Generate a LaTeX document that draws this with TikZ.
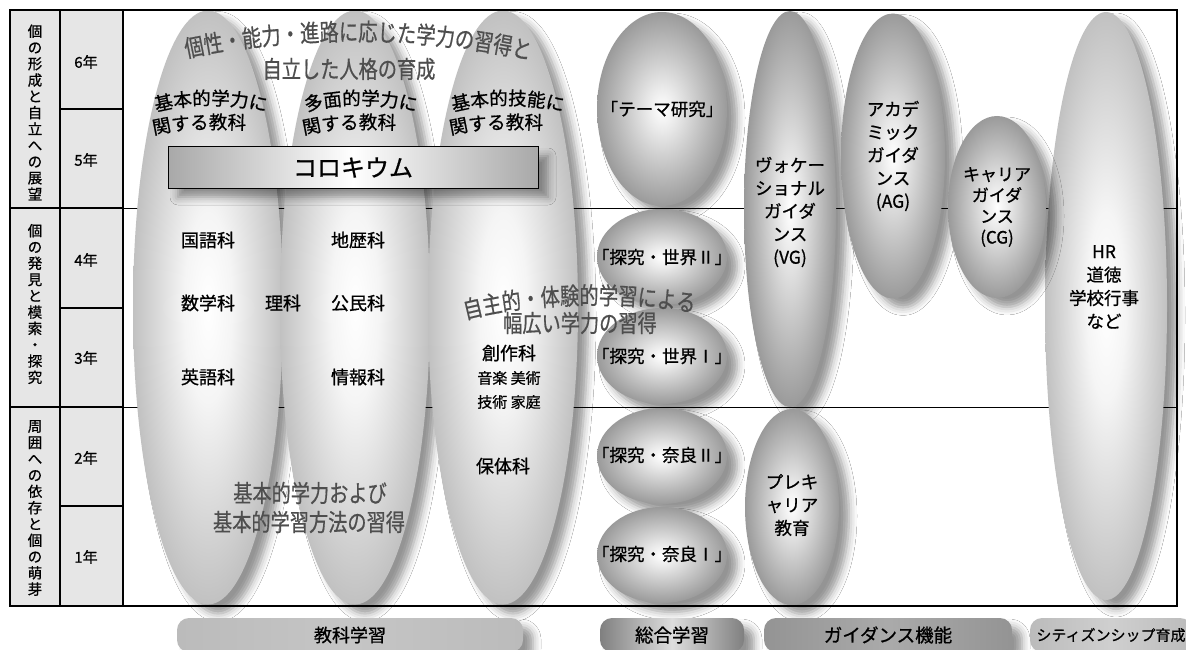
\documentclass[tikz,border=0pt]{standalone}
\usepackage{fontspec}
\setmainfont{Noto Sans CJK JP}[FakeBold=0.8]
\newfontfamily\capfam[FakeStretch=0.8,FakeBold=0.6]{Noto Sans CJK JP}
\usetikzlibrary{shapes.geometric,shadows.blur,decorations.text}
\definecolor{cellfill}{HTML}{E6E6E6}
\definecolor{lg}{HTML}{BBBBBB}
\definecolor{dg}{HTML}{8E8E8E}
\definecolor{capgray}{HTML}{4E4E4E}
\pgfdeclareradialshading{lightball}{\pgfpoint{0bp}{0bp}}{color(0bp)=(white); color(8bp)=(white!85!lg); color(27bp)=(lg); color(50bp)=(lg)}
\pgfdeclareradialshading{darkball}{\pgfpoint{0bp}{0bp}}{color(0bp)=(white); color(6bp)=(white!80!dg); color(28bp)=(dg); color(50bp)=(dg!88!black)}
\newcommand\mycapfont{\capfam\fontsize{24}{26}\selectfont}
\newcommand\mysubjfont{\fontsize{18.5}{20}\selectfont}
\tikzset{
  every node/.style={inner sep=0pt, outer sep=0pt},
  softshadow/.style={blur shadow={shadow xshift=10pt, shadow yshift=-9pt, shadow blur radius=8pt, shadow opacity=42}},
  tallell/.style={ellipse, shading=lightball, softshadow},
  ballell/.style={ellipse, shading=darkball, softshadow},
  balltxt/.style={align=center, font=\fontsize{17.5}{23}\selectfont},
  subjtxt/.style={font=\fontsize{18}{18}\selectfont},
  smalltxt/.style={font=\fontsize{15}{15}\selectfont},
  yrtxt/.style={font=\fontsize{15}{15}\selectfont},
  verttxt/.style={align=center, font=\fontsize{14.5}{16.3}\selectfont},
  captxt/.style={text=capgray, font=\mycapfont},
  pillbox/.style={rounded corners=12pt, minimum height=34pt, softshadow},
  rowline/.style={line width=0.9pt, black},
  tline/.style={line width=1.1pt, black},
  arctext/.style={decorate, decoration={text along path, text align=center, text={#1}}},
}
\begin{document}
\begin{tikzpicture}[x=1pt,y=-1pt]
\useasboundingbox (0,0) rectangle (1186,650);
\clip (0,0) rectangle (1186,650);
\fill[white] (0,0) rectangle (1186,650);
\fill[cellfill] (10,10) rectangle (123,606);
% row lines across the main area
\draw[rowline] (123,208) -- (1177,208);
\draw[rowline] (123,407) -- (1177,407);
% tall light ellipses
\node[tallell, minimum width=150pt, minimum height=594pt] (L1) at (208,307.5) {};
\node[tallell, minimum width=150pt, minimum height=594pt] (L2) at (355,307.5) {};
\node[tallell, minimum width=150pt, minimum height=594pt] (L3) at (503,307.5) {};
\node[tallell, minimum width=122pt, minimum height=588pt] (HR) at (1106,306) {};
% dark balls
\node[ballell, minimum width=130pt, minimum height=194pt] (T) at (662,109) {};
\node[ballell, minimum width=130pt, minimum height=96pt] (W2) at (662,257) {};
\node[ballell, minimum width=130pt, minimum height=96pt] (W1) at (662,356) {};
\node[ballell, minimum width=130pt, minimum height=96pt] (N2) at (662,456) {};
\node[ballell, minimum width=130pt, minimum height=96pt] (N1) at (662,555) {};
\node[ballell, minimum width=92pt, minimum height=396pt] (VG) at (790,209) {};
\node[ballell, minimum width=94pt, minimum height=196pt] (PC) at (792,507) {};
\node[ballell, minimum width=104pt, minimum height=285pt] (AG) at (893,156) {};
\node[ballell, minimum width=98pt, minimum height=182pt] (CG) at (997,207) {};
\node[balltxt] (Tt) at (T) {「テーマ研究」};
\node[balltxt] (W2t) at (W2) {「探究・世界Ⅱ」};
\node[balltxt] (W1t) at (W1) {「探究・世界Ⅰ」};
\node[balltxt] (N2t) at ([yshift=1pt]N2.center) {「探究・奈良Ⅱ」};
\node[balltxt] (N1t) at ([yshift=1pt]N1.center) {「探究・奈良Ⅰ」};
\node[balltxt] (VGt) at ([yshift=-3pt]VG.center) {ヴォケー\\ショナル\\ガイダ\\ンス\\(VG)};
\node[balltxt] (PCt) at ([yshift=2pt]PC.center) {プレキ\\ャリア\\教育};
\node[balltxt] (AGt) at (AG) {アカデ\\ミック\\ガイダ\\ンス\\(AG)};
\node[balltxt, font=\fontsize{17}{21}\selectfont] (CGt) at (CG) {キャリア\\ガイダ\\ンス\\(CG)};
\node[balltxt, font=\fontsize{17.5}{23.3}\selectfont] (HRt) at (1104,287) {HR\\道徳\\学校行事\\など};
% colloquium
\node[draw=black, line width=1pt, left color=lg!90!black, right color=lg!90!black, middle color=white, softshadow,
      minimum width=370pt, minimum height=41pt, font=\fontsize{24}{24}\selectfont] (Coll) at (353,167.5) {コロキウム};
% captions
\path[arctext={|\mycapfont|個性・能力・進路に応じた学力の習得と}, decoration={text color=capgray}]
  (176,60) .. controls (290,34) and (420,34) .. (540,62);
\node[captxt] (cap1b) at (349,69) {自立した人格の育成};
\path[arctext={|\mycapfont|自主的・体験的学習による}, decoration={text color=capgray}]
  (456,322) .. controls (530,300) and (630,300) .. (704,314);
\node[captxt] (cap2b) at (580,323) {幅広い学力の習得};
\node[captxt] (cap3a) at (310,493) {基本的学力および};
\node[captxt] (cap3b) at (309,522) {基本的学習方法の習得};
% subject group headings
\path[arctext={|\mysubjfont|基本的学力に}] (148,114) .. controls (185,102) and (235,102) .. (274,114);
\path[arctext={|\mysubjfont|関する教科}] (148,137) .. controls (170,128) and (220,128) .. (252,130);
\path[arctext={|\mysubjfont|多面的学力に}] (298,114) .. controls (335,102) and (385,102) .. (424,114);
\path[arctext={|\mysubjfont|関する教科}] (298,137) .. controls (320,128) and (370,128) .. (402,130);
\path[arctext={|\mysubjfont|基本的技能に}] (445,114) .. controls (482,102) and (532,102) .. (571,114);
\path[arctext={|\mysubjfont|関する教科}] (445,137) .. controls (467,128) and (517,128) .. (549,130);
% subjects
\node[subjtxt] (s1) at (208,240) {国語科};
\node[subjtxt] (s2) at (358,240) {地歴科};
\node[subjtxt] (s3) at (208,303) {数学科};
\node[subjtxt] (s4) at (283,303) {理科};
\node[subjtxt] (s5) at (358,303) {公民科};
\node[subjtxt] (s6) at (208,377) {英語科};
\node[subjtxt] (s7) at (358,377) {情報科};
\node[subjtxt] (s8) at (509,353) {創作科};
\node[smalltxt] (s9) at (509,378) {音楽 美術};
\node[smalltxt] (s10) at (509,402) {技術 家庭};
\node[subjtxt] (s11) at (503,466) {保体科};
% table
\draw[tline] (10,10) rectangle (1177,606);
\draw[tline] (60,10) -- (60,606);
\draw[tline] (123,10) -- (123,606);
\draw[tline] (10,208) -- (123,208);
\draw[tline] (10,407) -- (123,407);
\draw[tline] (60,109) -- (123,109);
\draw[tline] (60,308) -- (123,308);
\draw[tline] (60,506) -- (123,506);
\node[verttxt] (v1) at (35,112.5) {個\\の\\形\\成\\と\\自\\立\\へ\\の\\展\\望};
\node[verttxt] (v2) at (35,304) {個\\の\\発\\見\\と\\模\\索\\・\\探\\究};
\node[verttxt] (v3) at (35,508) {周\\囲\\へ\\の\\依\\存\\と\\個\\の\\萌\\芽};
\node[yrtxt] (y6) at (86,62) {6年};
\node[yrtxt] (y5) at (86,160) {5年};
\node[yrtxt] (y4) at (86,260) {4年};
\node[yrtxt] (y3) at (86,358) {3年};
\node[yrtxt] (y2) at (86,458) {2年};
\node[yrtxt] (y1) at (86,557) {1年};
% bottom pills
\node[pillbox, left color=lg, right color=lg, middle color=lg!85!white, minimum width=346pt, font=\fontsize{18}{18}\selectfont] (P1) at (350,635) {教科学習};
\node[pillbox, left color=dg!90!black, right color=dg!90!black, middle color=white!70!dg, minimum width=144pt, font=\fontsize{18.5}{18}\selectfont] (P2) at (672,635) {総合学習};
\node[pillbox, left color=dg!95, right color=dg!95, middle color=dg!75!white, minimum width=248pt, font=\fontsize{18.5}{18}\selectfont] (P3) at (888,635) {ガイダンス機能};
\node[pillbox, left color=lg, right color=lg, middle color=lg!70!white, minimum width=162pt, font=\fontsize{15}{15}\selectfont] (P4) at (1111,635) {シティズンシップ育成};
\end{tikzpicture}
\end{document}
